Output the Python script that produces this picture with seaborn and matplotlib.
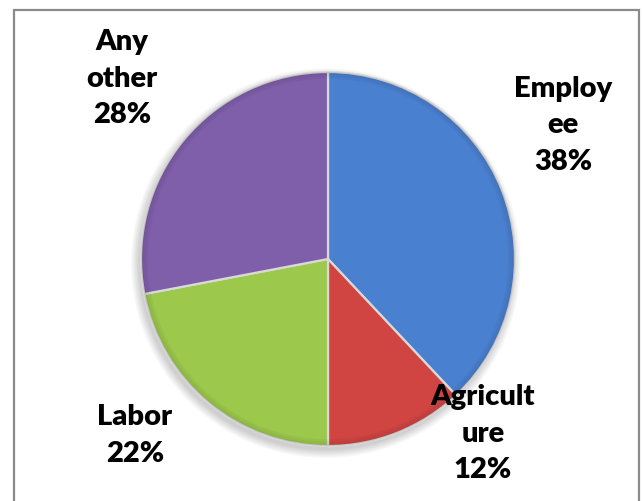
import matplotlib
matplotlib.use("Agg")
import matplotlib.pyplot as plt
import seaborn as sns
from matplotlib.patches import Rectangle, Wedge

# Occupation shares (percent), clockwise from 12 o'clock
categories = ["Employee", "Agriculture", "Labor", "Any other"]
shares = [38, 12, 22, 28]
label_lines = ["Employ\nee", "Agricult\nure", "Labor", "Any\nother"]
colors = ["#4a80d0", "#d04542", "#9cc84c", "#7f5faa"]

# label anchor points in pie-radius units (x, y)
label_pos = [(1.258, 0.716), (0.828, -0.935), (-1.033, -0.945), (-1.102, 0.965)]

sns.set_theme(style="white")
plt.rcParams["font.family"] = ["Lato", "DejaVu Sans"]

W, H, DPI = 643, 501, 100
fig = plt.figure(figsize=(W / DPI, H / DPI), dpi=DPI)
ax = fig.add_axes([0, 0, 1, 1])

cx, cy, r = 328, 259, 187

# soft drop shadow under the pie
for k in range(8):
    ax.add_patch(plt.Circle((-0.012, -0.022), 1.0 + 0.006 * k,
                            color="black", alpha=0.025, lw=0, zorder=0))

wedges, _ = ax.pie(shares, colors=colors, startangle=90, counterclock=False,
                   radius=1.0, center=(0, 0), frame=True,
                   wedgeprops=dict(edgecolor="#d9d9d9", linewidth=1.6))
ax.set_xlim(-cx / r, (W - cx) / r)
ax.set_ylim((cy - H) / r, cy / r)
ax.set_aspect("auto")
ax.axis("off")

# rim shading on each slice
for w in wedges:
    for k, a in enumerate([0.10, 0.07, 0.04]):
        ax.add_patch(Wedge((0, 0), 1.0 - 0.012 * k, w.theta1, w.theta2,
                           width=0.012, color="black", alpha=a, lw=0))

for name, val, (x, y) in zip(label_lines, shares, label_pos):
    ax.text(x, y, f"{name}\n{val}%", ha="center", va="center",
            fontsize=21, fontweight="heavy", color="black", linespacing=1.5)

# outer frame
fig.patches.append(Rectangle((14 / W, -0.05), (639 - 14) / W, (H - 10) / H + 0.05,
                             transform=fig.transFigure, fill=False,
                             edgecolor="#8a8a8a", linewidth=1.6))

fig.savefig("out.png", dpi=DPI)
